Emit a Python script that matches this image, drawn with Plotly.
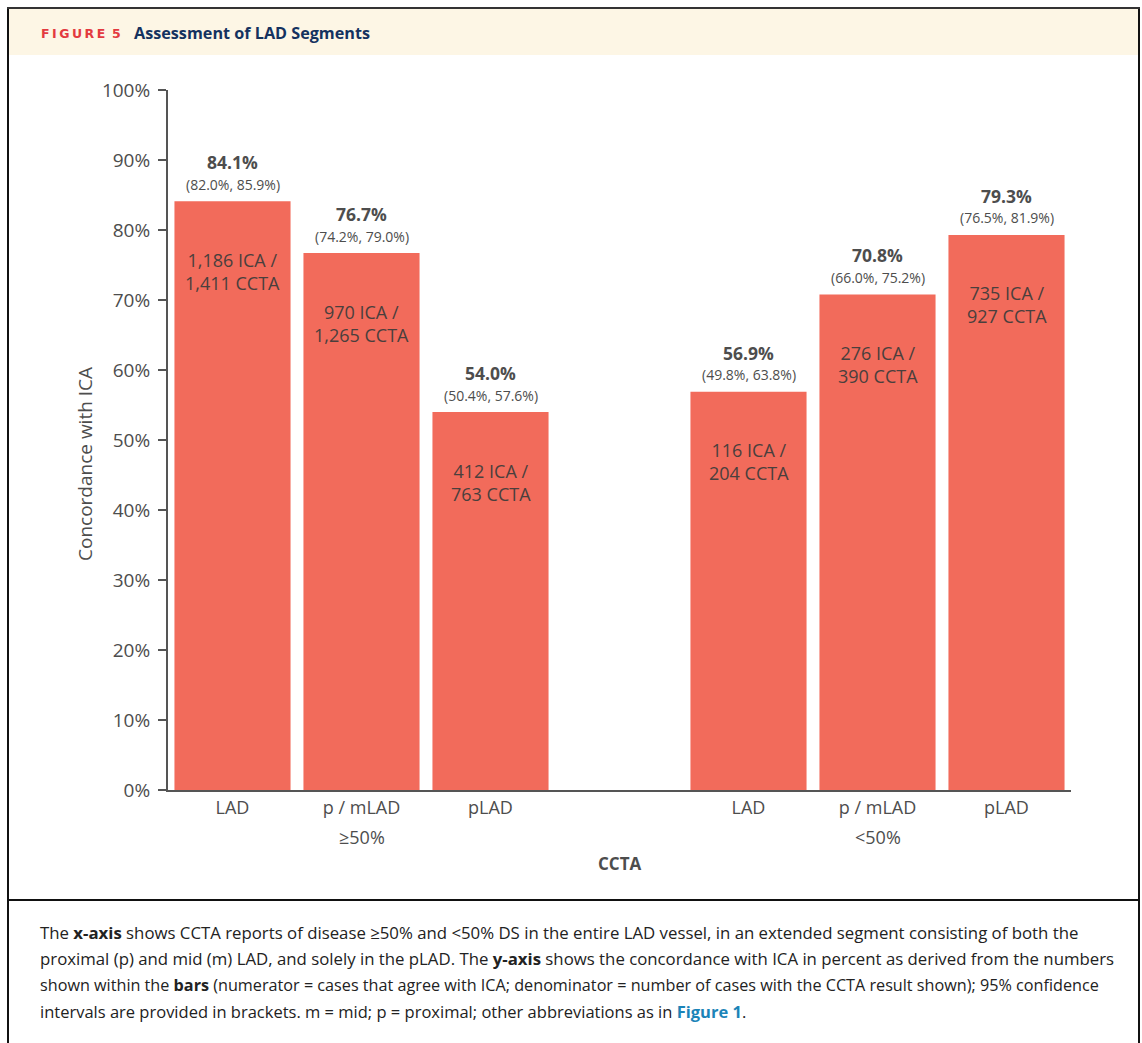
import plotly.graph_objects as go

# ---- data ----
positions = [0, 1, 2, 4, 5, 6]
categories = ["LAD", "p / mLAD", "pLAD", "LAD", "p / mLAD", "pLAD"]
groups = ["≥50%", "<50%"]
group_pos = [1, 5]
concordance = [84.1, 76.7, 54.0, 56.9, 70.8, 79.3]
ci_labels = ["(82.0%, 85.9%)", "(74.2%, 79.0%)", "(50.4%, 57.6%)",
             "(49.8%, 63.8%)", "(66.0%, 75.2%)", "(76.5%, 81.9%)"]
ica_counts = ["1,186", "970", "412", "116", "276", "735"]
ccta_counts = ["1,411", "1,265", "763", "204", "390", "927"]
y_ticks = [0, 10, 20, 30, 40, 50, 60, 70, 80, 90, 100]
y_tick_labels = ["0%", "10%", "20%", "30%", "40%", "50%", "60%", "70%", "80%", "90%", "100%"]

W, H = 1142, 1043
L, R, T, B = 168, 71, 90, 253
PW, PH = W - L - R, H - T - B

def px(x):
    return (x - L) / PW

def py(y):
    return (H - B - y) / PH

FONT = "Open Sans"
GRAY = "#4d4d4d"
BAR = "#F26B5B"

fig = go.Figure()
fig.add_trace(go.Bar(
    x=positions, y=concordance, width=0.9,
    marker=dict(color=BAR, line=dict(width=0)),
    hoverinfo="skip", showlegend=False,
))

ann = []
for xp, v, ci, a, c in zip(positions, concordance, ci_labels, ica_counts, ccta_counts):
    ann.append(dict(x=xp, y=v, xref="x", yref="y", text=f"<b>{v:.1f}%</b>",
                    showarrow=False, yshift=39, yanchor="middle",
                    font=dict(family=FONT, size=17.5, color=GRAY)))
    ann.append(dict(x=xp, y=v, xref="x", yref="y", text=ci,
                    showarrow=False, yshift=17, yanchor="middle",
                    font=dict(family=FONT, size=14, color=GRAY)))
    ann.append(dict(x=xp, y=v, xref="x", yref="y", text=f"{a} ICA /<br>{c} CCTA",
                    showarrow=False, yshift=-70, yanchor="middle",
                    font=dict(family=FONT, size=18, color="#4a3f3d")))

for g, gp in zip(groups, group_pos):
    ann.append(dict(x=gp, y=py(837), xref="x", yref="paper", text=g,
                    showarrow=False, yanchor="middle",
                    font=dict(family=FONT, size=18, color=GRAY)))

ann.append(dict(x=0.5, y=py(863), xref="paper", yref="paper", text="<b>CCTA</b>",
                showarrow=False, yanchor="middle",
                font=dict(family=FONT, size=17, color=GRAY)))
ann.append(dict(x=px(85), y=py(464), xref="paper", yref="paper",
                text="Concordance with ICA", textangle=-90,
                showarrow=False, xanchor="center", yanchor="middle",
                font=dict(family=FONT, size=19, color=GRAY)))

# header
ts = "\u2009"
ann.append(dict(x=px(39), y=py(33), xref="paper", yref="paper",
                text="<b>" + ts.join("FIGURE") + ts + " " + "5</b>", showarrow=False,
                xanchor="left", yanchor="middle",
                font=dict(family="DejaVu Sans", size=12.5, color="#E33A3F")))
ann.append(dict(x=px(132), y=py(33), xref="paper", yref="paper",
                text="<b>Assessment of LAD Segments</b>", showarrow=False,
                xanchor="left", yanchor="middle",
                font=dict(family=FONT, size=16.2, color="#14325F")))

caption = [
    "The <b>x-axis</b> shows CCTA reports of disease ≥50% and &lt;50% DS in the entire LAD vessel, in an extended segment consisting of both the",
    "proximal (p) and mid (m) LAD, and solely in the pLAD. The <b>y-axis</b> shows the concordance with ICA in percent as derived from the numbers",
    "shown within the <b>bars</b> (numerator = cases that agree with ICA; denominator = number of cases with the CCTA result shown); 95% confidence",
    "intervals are provided in brackets. m = mid; p = proximal; other abbreviations as in <b><span style='color:#1B84B8'>Figure 1</span></b>.",
]
cap_y = [932, 958, 985, 1011]
cap_size = [16.8, 16.8, 16.2, 16.5]
for line, yy, sz in zip(caption, cap_y, cap_size):
    ann.append(dict(x=px(38), y=py(yy), xref="paper", yref="paper", text=line,
                    showarrow=False, xanchor="left", yanchor="middle",
                    font=dict(family=FONT, size=sz, color="#222222")))

shapes = [
    dict(type="rect", xref="paper", yref="paper", x0=px(9), x1=px(1138), y0=py(9), y1=py(55),
         fillcolor="#FDF6E5", line=dict(width=0), layer="below"),
    dict(type="line", xref="paper", yref="paper", x0=px(8), x1=px(8), y0=py(7), y1=py(1045),
         line=dict(color="#111111", width=2)),
    dict(type="line", xref="paper", yref="paper", x0=px(1139), x1=px(1139), y0=py(7), y1=py(1045),
         line=dict(color="#111111", width=2)),
    dict(type="line", xref="paper", yref="paper", x0=px(7), x1=px(1140), y0=py(8), y1=py(8),
         line=dict(color="#333333", width=2)),
    dict(type="line", xref="paper", yref="paper", x0=px(7), x1=px(1140), y0=py(900), y1=py(900),
         line=dict(color="#111111", width=2)),
]

fig.update_layout(
    width=W, height=H,
    margin=dict(l=L, r=R, t=T, b=B, pad=0),
    paper_bgcolor="white", plot_bgcolor="white",
    showlegend=False,
    annotations=ann, shapes=shapes,
    xaxis=dict(range=[-0.5, 6.5], tickvals=positions, ticktext=categories,
               showgrid=False, zeroline=False, showline=True,
               linecolor="#555555", linewidth=2, ticks="",
               tickfont=dict(family=FONT, size=18, color=GRAY)),
    yaxis=dict(range=[0, 100], tickvals=y_ticks, ticktext=y_tick_labels,
               showgrid=False, zeroline=False, showline=True,
               linecolor="#555555", linewidth=2, ticks="outside",
               ticklen=8, tickwidth=2, tickcolor="#555555",
               ticklabelstandoff=4,
               tickfont=dict(family=FONT, size=19, color=GRAY)),
)

fig.write_html("out.html", config={"displayModeBar": False},
               post_script="document.body.style.margin='0';")
